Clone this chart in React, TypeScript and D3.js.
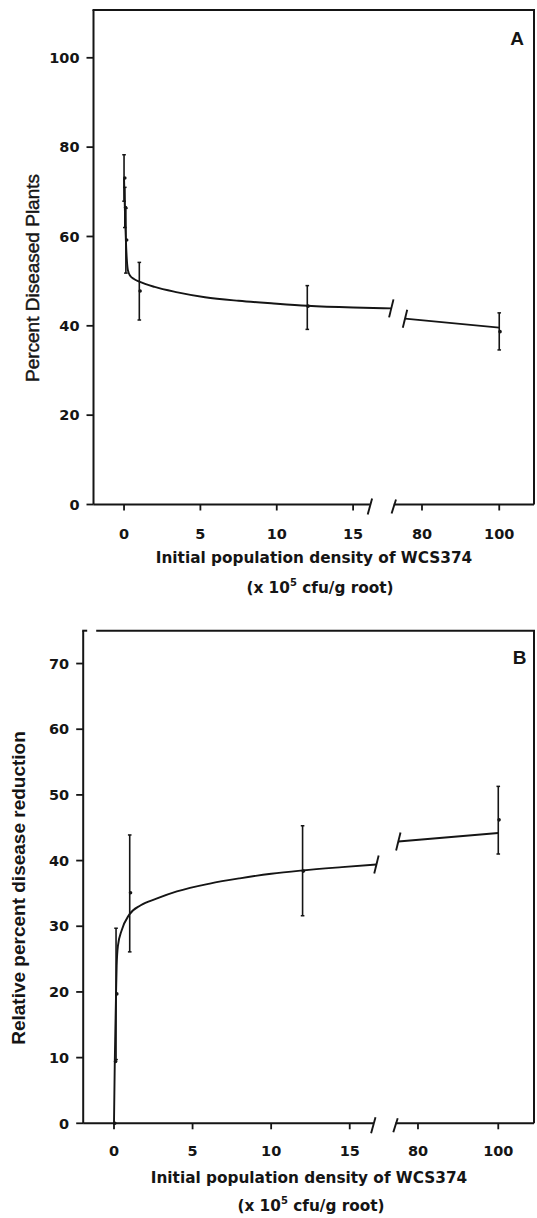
import React from 'react';
import * as d3 from 'd3';

// ---------- data ----------
const yTicksA = [0, 20, 40, 60, 80, 100];
const yTicksB = [0, 10, 20, 30, 40, 50, 60, 70];
const xTicksLeft = [0, 5, 10, 15];
const xTicksRight = [80, 100];

// Panel A: percent diseased plants
const densityA = [0, 0.05, 0.12, 1, 12, 100];
const diseasedA = [73.1, 66.5, 59.2, 47.8, 44.4, 38.7];
const diseasedALow = [67.9, 62, 51.8, 41.3, 39.2, 34.6];
const diseasedAHigh = [78.3, 71, 66.3, 54.2, 49.0, 42.9];
const fitALeftX = [0, 0.04, 0.08, 0.12, 0.18, 0.25, 0.4, 0.65, 1, 2, 3.5, 5.3, 7.5, 9.8, 12, 15, 17.5];
const fitALeftY = [73, 68, 63, 59.2, 55, 52.5, 51.2, 50.5, 49.9, 48.7, 47.5, 46.4, 45.6, 45.0, 44.5, 44.1, 43.9];
const fitARightX = [75.6, 100];
const fitARightY = [41.6, 39.6];

// Panel B: relative percent disease reduction
const densityB = [0, 0.05, 0.13, 1, 12, 100];
const reductionB = [0, 9.4, 19.7, 35.1, 38.4, 46.2];
const reductionBLow = [null, null, 9.7, 26.1, 31.6, 41.0];
const reductionBHigh = [null, null, 29.7, 43.9, 45.3, 51.3];
const fitBLeftX = [0, 0.05, 0.1, 0.13, 0.17, 0.25, 0.49, 0.95, 1.7, 2.7, 4, 6.1, 8, 10, 12, 14.5, 16.7];
const fitBLeftY = [0, 9.4, 16, 19.7, 24, 27, 29.4, 31.7, 33.2, 34.2, 35.3, 36.5, 37.3, 38.0, 38.5, 39.0, 39.4];
const fitBRightX = [75.1, 100];
const fitBRightY = [42.9, 44.2];

const TICK_FONT = "'DejaVu Sans', sans-serif";
const LABEL_FONT = "'Liberation Sans', Arial, sans-serif";
const INK = '#151515';

type PanelProps = {
  letter: string;
  yLabel: string;
  yLabelBold: boolean;
  yLabelX: number;
  yLabelY: number;
  yTicks: number[];
  y: d3.ScaleLinear<number, number>;
  xL: d3.ScaleLinear<number, number>;
  xR: d3.ScaleLinear<number, number>;
  px: number[];
  py: number[];
  lo: (number | null)[];
  hi: (number | null)[];
  fitLX: number[];
  fitLY: number[];
  fitRX: number[];
  fitRY: number[];
  titleY: number;
  title2Y: number;
  titleX: number;
  title2X: number;
  tickLabelDy: number;
  letterPos: [number, number];
  topGap: boolean;
};

function Panel(p: PanelProps) {
  const [x0, x1] = p.xL.range();
  const [xr0, xr1] = p.xR.range();
  const [yb, yt] = p.y.range();
  const X = (v: number) => (v > 40 ? p.xR(v) : p.xL(v));
  const mk = (xs: number[], ys: number[], sc: d3.ScaleLinear<number, number>) =>
    d3
      .line<number>()
      .x((_, i) => sc(xs[i]))
      .y((_, i) => p.y(ys[i]))
      .curve(d3.curveMonotoneX)(xs) || '';
  const leftEnd: [number, number] = [p.xL(p.fitLX[p.fitLX.length - 1]), p.y(p.fitLY[p.fitLY.length - 1])];
  const rightStart: [number, number] = [p.xR(p.fitRX[0]), p.y(p.fitRY[0])];
  const slash = (cx: number, cy: number, h = 9) => (
    <line x1={cx - 2.2} y1={cy + h} x2={cx + 2.2} y2={cy - h} stroke={INK} strokeWidth={1.9} />
  );
  return (
    <g>
      {/* frame */}
      <line x1={x0} y1={yt} x2={x0} y2={yb} stroke={INK} strokeWidth={2} />
      {p.topGap ? (
        <>
          <line x1={x0 - 1} y1={yt} x2={x0 + 4} y2={yt} stroke={INK} strokeWidth={2} />
          <line x1={x0 + 13} y1={yt} x2={xr1 + 1} y2={yt} stroke={INK} strokeWidth={2} />
        </>
      ) : (
        <line x1={x0 - 1} y1={yt} x2={xr1 + 1} y2={yt} stroke={INK} strokeWidth={2} />
      )}
      <line x1={xr1} y1={yt} x2={xr1} y2={yb} stroke={INK} strokeWidth={2} />
      {/* x axis with break */}
      <line x1={x0} y1={yb} x2={x1} y2={yb} stroke={INK} strokeWidth={2} />
      <line x1={xr0} y1={yb} x2={xr1} y2={yb} stroke={INK} strokeWidth={2} />
      {slash(x1, yb + 2, 8)}
      {slash(xr0, yb + 2, 7)}
      {/* y ticks */}
      {p.yTicks.map((t) => (
        <g key={'yt' + t}>
          <line x1={x0 - 7} y1={p.y(t)} x2={x0} y2={p.y(t)} stroke={INK} strokeWidth={1.8} />
          <text
            x={x0 - 14}
            y={p.y(t)}
            dy="0.36em"
            textAnchor="end"
            fontFamily={TICK_FONT}
            fontWeight="bold"
            fontSize={14.5}
            fill={INK}
          >
            {t}
          </text>
        </g>
      ))}
      {/* x ticks */}
      {xTicksLeft.map((t) => (
        <g key={'xl' + t}>
          <line x1={p.xL(t)} y1={yb} x2={p.xL(t)} y2={yb + 6} stroke={INK} strokeWidth={1.8} />
          <text x={p.xL(t)} y={yb + p.tickLabelDy} textAnchor="middle" fontFamily={TICK_FONT} fontWeight="bold" fontSize={14.5} fill={INK}>
            {t}
          </text>
        </g>
      ))}
      {xTicksRight.map((t) => (
        <g key={'xr' + t}>
          <line x1={p.xR(t)} y1={yb} x2={p.xR(t)} y2={yb + 6} stroke={INK} strokeWidth={1.8} />
          <text x={p.xR(t)} y={yb + p.tickLabelDy} textAnchor="middle" fontFamily={TICK_FONT} fontWeight="bold" fontSize={14.5} fill={INK}>
            {t}
          </text>
        </g>
      ))}
      {/* fitted curve */}
      <path d={mk(p.fitLX, p.fitLY, p.xL)} fill="none" stroke={INK} strokeWidth={1.9} />
      <path d={mk(p.fitRX, p.fitRY, p.xR)} fill="none" stroke={INK} strokeWidth={1.9} />
      {slash(leftEnd[0], leftEnd[1], 9)}
      {slash(rightStart[0], rightStart[1], 9)}
      {/* error bars and points */}
      {p.px.map((v, i) => {
        const cx = X(v);
        const l = p.lo[i];
        const h = p.hi[i];
        return (
          <g key={'pt' + i}>
            {l !== null && h !== null && (
              <>
                <line x1={cx} y1={p.y(l)} x2={cx} y2={p.y(h)} stroke={INK} strokeWidth={1.6} />
                <line x1={cx - 1.8} y1={p.y(l)} x2={cx + 1.8} y2={p.y(l)} stroke={INK} strokeWidth={1.5} />
                <line x1={cx - 1.8} y1={p.y(h)} x2={cx + 1.8} y2={p.y(h)} stroke={INK} strokeWidth={1.5} />
              </>
            )}
            <circle cx={cx + 0.8} cy={p.y(p.py[i])} r={1.8} fill={INK} />
          </g>
        );
      })}
      {/* letter */}
      <text x={p.letterPos[0]} y={p.letterPos[1]} fontFamily={LABEL_FONT} fontWeight="bold" fontSize={19} fill={INK} textAnchor="middle">
        {p.letter}
      </text>
      {/* y label */}
      <text
        transform={`translate(${p.yLabelX},${p.yLabelY}) rotate(-90)`}
        textAnchor="middle"
        fontFamily={LABEL_FONT}
        fontWeight={p.yLabelBold ? 'bold' : 'normal'}
        fontSize={19}
        fill={INK}
        stroke={p.yLabelBold ? 'none' : INK}
        strokeWidth={p.yLabelBold ? 0 : 0.45}
      >
        {p.yLabel}
      </text>
      {/* x title */}
      <text x={p.titleX} y={p.titleY} textAnchor="middle" fontFamily={TICK_FONT} fontWeight="bold" fontSize={15.3} fill={INK}>
        Initial population density of WCS374
      </text>
      <text x={p.title2X} y={p.title2Y} textAnchor="middle" fontFamily={TICK_FONT} fontWeight="bold" fontSize={15.3} fill={INK}>
        (x 10
        <tspan fontSize={10} dy={-7}>5</tspan>
        <tspan dy={7}> cfu/g root)</tspan>
      </text>
    </g>
  );
}

export default function App() {
  const yA = d3.scaleLinear().domain([0, 110.7]).range([504.5, 10]);
  const xAL = d3.scaleLinear().domain([-2, 16.1]).range([93.5, 369.9]);
  const xAR = d3.scaleLinear().domain([72.7, 109]).range([393.8, 534]);

  const yB = d3.scaleLinear().domain([0, 75]).range([1123.3, 630.7]);
  const xBL = d3.scaleLinear().domain([-1.96, 16.5]).range([83.2, 373.3]);
  const xBR = d3.scaleLinear().domain([74.4, 108.9]).range([395.5, 534]);

  return (
    <svg
      width={537}
      height={1218}
      viewBox="0 0 537 1218"
      style={{ position: 'absolute', left: 0, top: 0, background: '#fff' }}
    >
      <rect x={0} y={0} width={537} height={1218} fill="#fff" />
      <Panel
        letter="A"
        yLabel="Percent Diseased Plants"
        yLabelBold={false}
        yLabelX={39}
        yLabelY={278}
        yTicks={yTicksA}
        y={yA}
        xL={xAL}
        xR={xAR}
        px={densityA}
        py={diseasedA}
        lo={diseasedALow}
        hi={diseasedAHigh}
        fitLX={fitALeftX}
        fitLY={fitALeftY}
        fitRX={fitARightX}
        fitRY={fitARightY}
        titleX={314}
        titleY={563}
        title2X={320}
        title2Y={593}
        tickLabelDy={34.5}
        letterPos={[517, 44.5]}
        topGap={false}
      />
      <Panel
        letter="B"
        yLabel="Relative percent disease reduction"
        yLabelBold={true}
        yLabelX={25}
        yLabelY={888}
        yTicks={yTicksB}
        y={yB}
        xL={xBL}
        xR={xBR}
        px={densityB}
        py={reductionB}
        lo={reductionBLow}
        hi={reductionBHigh}
        fitLX={fitBLeftX}
        fitLY={fitBLeftY}
        fitRX={fitBRightX}
        fitRY={fitBRightY}
        titleX={309}
        titleY={1183}
        title2X={311}
        title2Y={1211}
        tickLabelDy={33}
        letterPos={[519.5, 664]}
        topGap={true}
      />
    </svg>
  );
}
